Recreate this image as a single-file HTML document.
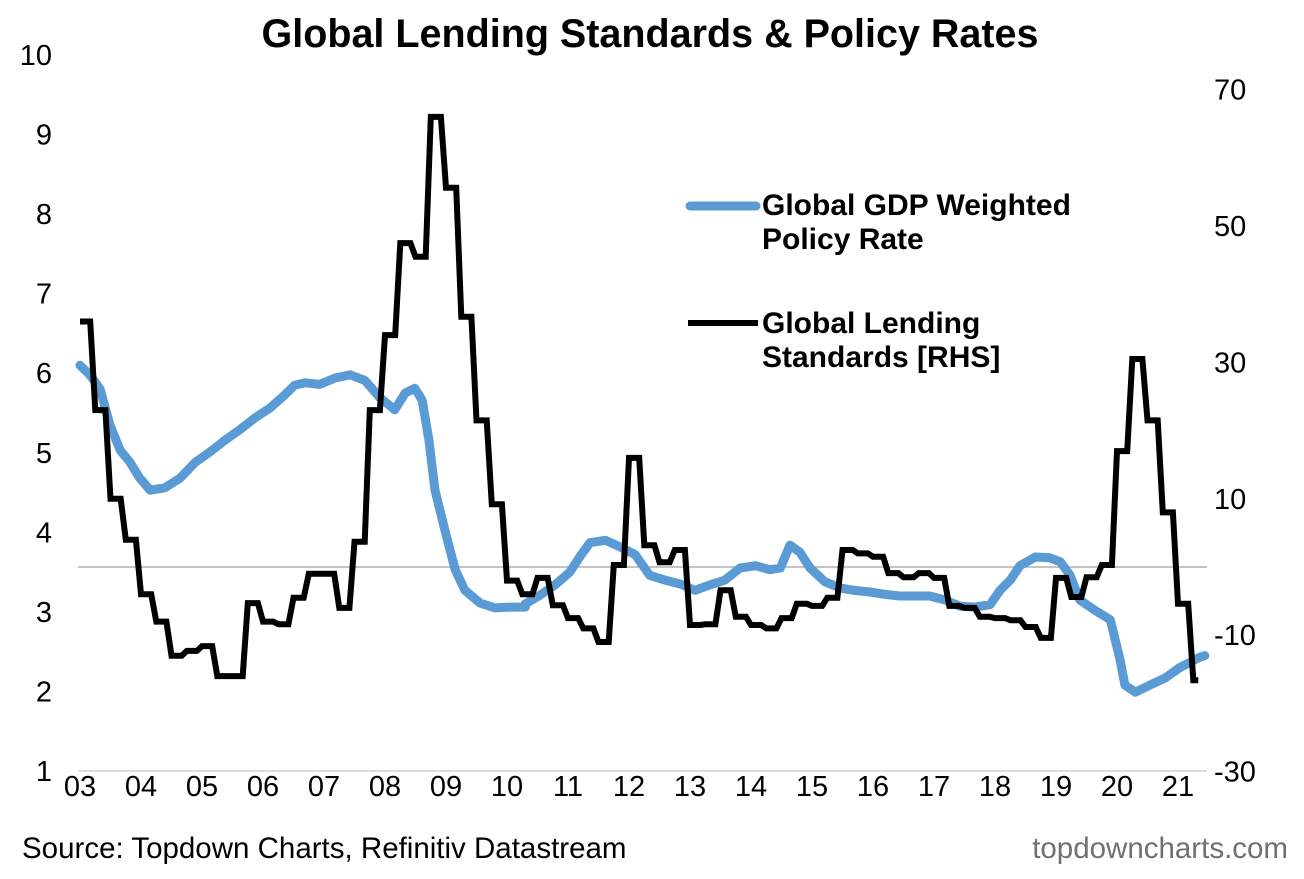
<!DOCTYPE html>
<html><head><meta charset="utf-8"><style>
html,body{margin:0;padding:0;background:#fff;}
svg{display:block;font-family:"Liberation Sans",Arial,sans-serif;}
</style></head><body>
<svg id="chart" width="1304" height="879" viewBox="0 0 1304 879">
<text x="650" y="47" text-anchor="middle" font-size="39.5" font-weight="bold">Global Lending Standards &amp; Policy Rates</text>
<g id="yl"></g>
<g id="yr"></g>
<g id="xa"></g>
<line x1="78" y1="567" x2="1207" y2="567" stroke="#a0a0a0" stroke-width="1.2"/>
<line x1="78" y1="771" x2="1207" y2="771" stroke="#d0d0d0" stroke-width="1.5"/>
<path id="blue" fill="none" stroke="#5b9bd5" stroke-width="9" stroke-linejoin="round" stroke-linecap="round"/>
<path id="black" fill="none" stroke="#000" stroke-width="6" stroke-linejoin="miter"/>
<g>
<line x1="690" y1="206" x2="756" y2="206" stroke="#5b9bd5" stroke-width="9" stroke-linecap="round"/>
<text x="762" y="215" font-size="30" font-weight="bold"><tspan x="762">Global GDP Weighted</tspan><tspan x="762" dy="34">Policy Rate</tspan></text>
<line x1="688" y1="323" x2="758" y2="323" stroke="#000" stroke-width="6"/>
<text x="762" y="333" font-size="30" font-weight="bold"><tspan x="762">Global Lending</tspan><tspan x="762" dy="34">Standards [RHS]</tspan></text>
</g>
<text x="22" y="858" font-size="29.5">Source: Topdown Charts, Refinitiv Datastream</text>
<text x="1288" y="858" font-size="29.5" fill="#707070" text-anchor="end">topdowncharts.com</text>
</svg>
<script>
const leftTicks=[1,2,3,4,5,6,7,8,9,10];
const rightTicks=[-30,-10,10,30,50,70];
const xLabels=["03","04","05","06","07","08","09","10","11","12","13","14","15","16","17","18","19","20","21"];
// Lending standards, quarterly from 2003Q1 (RHS)
const lendingQ=[36,23,10,4,-4,-8,-13,-12.3,-11.6,-16,-16,-5.3,-8,-8.4,-4.5,-1,-1,-6,3.7,23,34,47.5,45.5,66,55.6,36.7,21.5,9.2,-2,-4,-1.6,-5.6,-7.5,-9,-11,0.3,16,3.2,0.7,2.5,-8.5,-8.4,-3.4,-7.3,-8.5,-9,-7.5,-5.4,-5.7,-4.5,2.5,2,1.5,-0.9,-1.5,-0.9,-1.6,-5.7,-6,-7.3,-7.5,-7.8,-8.8,-10.4,-1.6,-4.4,-1.5,0.3,17,30.5,21.5,8,-5.4,-16.6];
// Policy rate (LHS): dates in decimal years and values
const rateDates=[2003,2003.16,2003.33,2003.49,2003.66,2003.82,2003.98,2004.15,2004.39,2004.64,2004.89,2005.13,2005.38,2005.62,2005.87,2006.11,2006.36,2006.52,2006.69,2006.93,2007.18,2007.43,2007.67,2007.92,2008.16,2008.33,2008.49,2008.61,2008.72,2008.82,2008.98,2009.15,2009.31,2009.56,2009.8,2010.05,2010.3,2010.3,2010.54,2010.79,2011.03,2011.2,2011.36,2011.61,2011.85,2012.1,2012.34,2012.59,2012.84,2013.08,2013.33,2013.57,2013.82,2014.07,2014.31,2014.48,2014.64,2014.8,2014.97,2015.21,2015.46,2015.7,2015.95,2016.2,2016.44,2016.69,2016.93,2017.18,2017.43,2017.67,2017.92,2018.08,2018.25,2018.41,2018.66,2018.9,2019.07,2019.23,2019.39,2019.64,2019.89,2020.05,2020.13,2020.3,2020.54,2020.79,2021.03,2021.28,2021.36,2021.44];
const rateVals=[6.1,5.98,5.8,5.35,5.03,4.88,4.68,4.53,4.56,4.68,4.88,5.01,5.16,5.29,5.44,5.56,5.73,5.85,5.88,5.86,5.94,5.98,5.91,5.69,5.54,5.75,5.81,5.66,5.16,4.53,4.03,3.53,3.27,3.11,3.05,3.06,3.06,3.1,3.21,3.34,3.5,3.7,3.87,3.9,3.82,3.72,3.46,3.4,3.35,3.27,3.34,3.4,3.55,3.58,3.53,3.55,3.84,3.75,3.55,3.38,3.3,3.27,3.25,3.22,3.2,3.2,3.2,3.15,3.07,3.06,3.09,3.27,3.4,3.58,3.69,3.68,3.63,3.46,3.15,3.02,2.9,2.4,2.08,1.99,2.08,2.17,2.3,2.4,2.43,2.45];
const X0=80,YW=61;
function xYear(t){return X0+(t-2003)*YW;}
function yL(v){return 771-(v-1)*(716/9);}
function yR(v){return 567-v*(682/100);}
const ns="http://www.w3.org/2000/svg";
function txt(g,x,y,s,anchor,name){const t=document.createElementNS(ns,"text");t.setAttribute("x",x);t.setAttribute("y",y);t.setAttribute("font-size","29");t.setAttribute("text-anchor",anchor);t.textContent=s;


g.appendChild(t);}
const yl=document.getElementById("yl"),yr=document.getElementById("yr"),xa=document.getElementById("xa");
leftTicks.forEach(v=>txt(yl,52,yL(v)+10,String(v),"end","left-tick-label"));
rightTicks.forEach(v=>txt(yr,1214,yR(v)+10,String(v),"start","right-tick-label"));
xLabels.forEach((s,i)=>txt(xa,xYear(2003+i),796,s,"middle","x-tick-label"));
let d="",m=0;
lendingQ.forEach((v,i)=>{const months=(i===lendingQ.length-1)?2:3;for(let k=0;k<months;k++){const x=xYear(2003+m/12);d+=(d?"L":"M")+x.toFixed(1)+","+yR(v).toFixed(1);m++;}});
document.getElementById("black").setAttribute("d",d);
let b="";rateDates.forEach((t,i)=>{b+=(i?"L":"M")+xYear(t).toFixed(1)+","+yL(rateVals[i]).toFixed(1);});
document.getElementById("blue").setAttribute("d",b);
</script>
</body></html>
